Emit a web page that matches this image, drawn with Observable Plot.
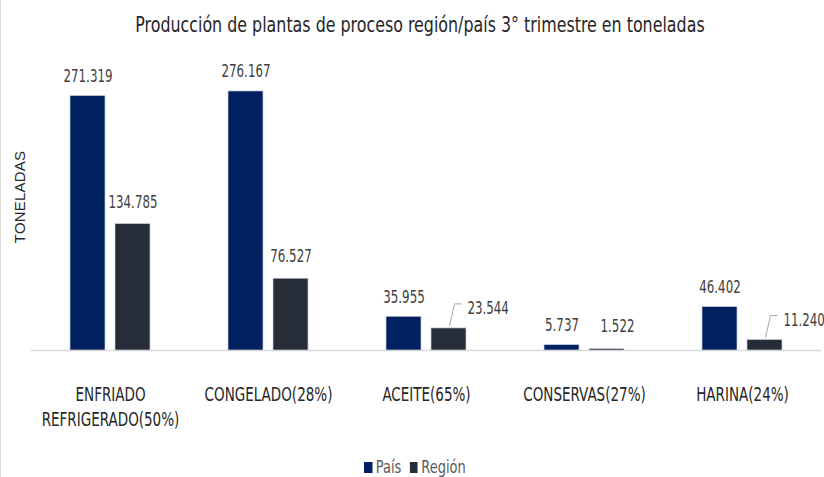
<!DOCTYPE html>
<html>
<head>
<meta charset="utf-8">
<script src="https://cdn.jsdelivr.net/npm/d3@7"></script>
<script src="https://cdn.jsdelivr.net/npm/@observablehq/plot@0.6"></script>
<style>
  body { margin: 0; background: #fff; }
  #wrap { width: 824px; height: 477px; position: relative; overflow: hidden; background: #fff; }
  #edge { position: absolute; left: 0; top: 0; width: 1px; height: 477px; background: #d9d9d9; }
  #title { height: 52px; line-height: 50px; text-align: center; font-family: 'DejaVu Sans Condensed', 'Liberation Sans', sans-serif; font-size: 21px; color: #262626; white-space: nowrap; transform: translateX(8px) scaleX(0.84); transform-origin: 412px 0; }
  #ylab { position: absolute; left: 19px; top: 197px; transform: translate(-50%, -50%) rotate(-90deg); font-family: 'Liberation Sans', Arial, sans-serif; font-size: 15px; letter-spacing: 0.2px; color: #262626; white-space: nowrap; }
  #legend { display: flex; justify-content: center; align-items: center; gap: 10px; padding-top: 15px; font-family: 'DejaVu Sans Condensed', sans-serif; font-size: 17px; color: #595959; transform: translateX(3px) scaleX(0.85); transform-origin: 412px 0; }
  .item { display: flex; align-items: center; gap: 4px; }
  .sw { width: 9.5px; height: 11px; display: inline-block; }
  #chart svg { display: block; }
</style>
</head>
<body>
<div id="wrap">
  <div id="edge"></div>
  <div id="title"></div>
  <div id="chart"></div>
  <div id="legend"></div>
  <div id="ylab"></div>
</div>
<script>
// ---- data ----
const titleText = "Producción de plantas de proceso región/país 3° trimestre en toneladas";
const yLabel = "TONELADAS";
const categories = ["ENFRIADO REFRIGERADO(50%)", "CONGELADO(28%)", "ACEITE(65%)", "CONSERVAS(27%)", "HARINA(24%)"];
const categoryLabels = ["ENFRIADO\nREFRIGERADO(50%)", "CONGELADO(28%)", "ACEITE(65%)", "CONSERVAS(27%)", "HARINA(24%)"];
const series = ["País", "Región"];
const paisValues = [271319, 276167, 35955, 5737, 46402];
const regionValues = [134785, 76527, 23544, 1522, 11240];

// ---- styles ----
const colors = {"País": "#002060", "Región": "#262d38"};
const regionPlacement = ["above", "above", "leader", "offset", "leader"];
const font = "'DejaVu Sans Condensed', 'Liberation Sans', sans-serif";
const valueSize = 18, axisSize = 19;
const squeezeBySize = {[valueSize]: 0.73, [axisSize]: 0.79};

const fmt = d3.formatLocale({decimal: ",", thousands: ".", grouping: [3], currency: ["", ""]}).format(",d");

const paisRows = categories.map((c, i) => ({cat: c, serie: series[0], value: paisValues[i]}));
const regionRows = categories.map((c, i) => ({cat: c, serie: series[1], value: regionValues[i], placement: regionPlacement[i]}));

document.getElementById("title").textContent = titleText;
document.getElementById("ylab").textContent = yLabel;

const chart = Plot.plot({
  width: 824,
  height: 390,
  marginLeft: 31,
  marginRight: 3,
  marginTop: 16.6,
  marginBottom: 92,
  style: {fontFamily: font, fontSize: "17px", color: "#262626", background: "transparent"},
  x: {domain: categories, padding: 0, axis: null},
  y: {domain: [0, 300000], axis: null},
  marks: [
    Plot.ruleY([0], {stroke: "#d9d9d9", strokeWidth: 1.5}),
    Plot.barY(paisRows, {x: "cat", y: "value", fill: colors["País"], stroke: "#c9cfdb", strokeWidth: 0.7, insetLeft: 39, insetRight: 84}),
    Plot.barY(regionRows, {x: "cat", y: "value", fill: colors["Región"], stroke: "#c9cfdb", strokeWidth: 0.7, insetLeft: 84, insetRight: 39}),
    Plot.text(paisRows, {x: "cat", y: "value", text: d => fmt(d.value), dx: -22.5, dy: -20, fontSize: valueSize, fill: "#404040"}),
    Plot.text(regionRows.filter(d => d.placement === "above"), {x: "cat", y: "value", text: d => fmt(d.value), dx: 22.5, dy: -22, fontSize: valueSize, fill: "#404040"}),
    Plot.text(regionRows.filter(d => d.placement === "leader"), {x: "cat", y: "value", text: d => fmt(d.value), textAnchor: "start", dx: 41, dy: -20, fontSize: valueSize, fill: "#404040"}),
    Plot.text(regionRows.filter(d => d.placement === "offset"), {x: "cat", y: "value", text: d => fmt(d.value), dx: 33, dy: -23, fontSize: valueSize, fill: "#404040"}),
    Plot.axisX({domain: categories, tickSize: 0, tickPadding: 32, fontSize: axisSize, lineHeight: 1.34, tickFormat: d => categoryLabels[categories.indexOf(d)], fill: "#262626", label: null})
  ]
});

// leader lines from the region bars to their offset labels, positioned with the plot's scales
const xs = chart.scale("x"), ys = chart.scale("y");
const svg = d3.select(chart);
regionRows.filter(d => d.placement === "leader").forEach(d => {
  const bx = xs.apply(d.cat) + xs.bandwidth / 2 + 22.5;
  const by = ys.apply(d.value);
  svg.append("path")
    .attr("d", `M${bx + 1},${by - 2}L${bx + 6},${by - 24}H${bx + 13}`)
    .attr("fill", "none").attr("stroke", "#a6a6a6").attr("stroke-width", 1);
});

document.getElementById("chart").appendChild(chart);

// narrow the glyphs horizontally (the reference uses a condensed face)
svg.selectAll("text").each(function() {
  let el = this, size = null;
  while (el && el !== chart) {
    const fs = el.getAttribute && el.getAttribute("font-size");
    if (fs) { size = parseFloat(fs); break; }
    el = el.parentNode;
  }
  const k = squeezeBySize[size];
  if (!k) return;
  const parts = this.querySelectorAll("tspan");
  const targets = parts.length ? Array.from(parts) : [this];
  targets.forEach(t => {
    const L = t.getComputedTextLength();
    t.setAttribute("textLength", (L * k).toFixed(2));
    t.setAttribute("lengthAdjust", "spacingAndGlyphs");
  });
});

const legend = document.getElementById("legend");
series.forEach(s => {
  const it = document.createElement("div");
  it.className = "item";
  const sw = document.createElement("span");
  sw.className = "sw";
  sw.style.background = colors[s];
  const t = document.createElement("span");
  t.textContent = s;
  it.appendChild(sw); it.appendChild(t);
  legend.appendChild(it);
});
</script>
</body>
</html>
